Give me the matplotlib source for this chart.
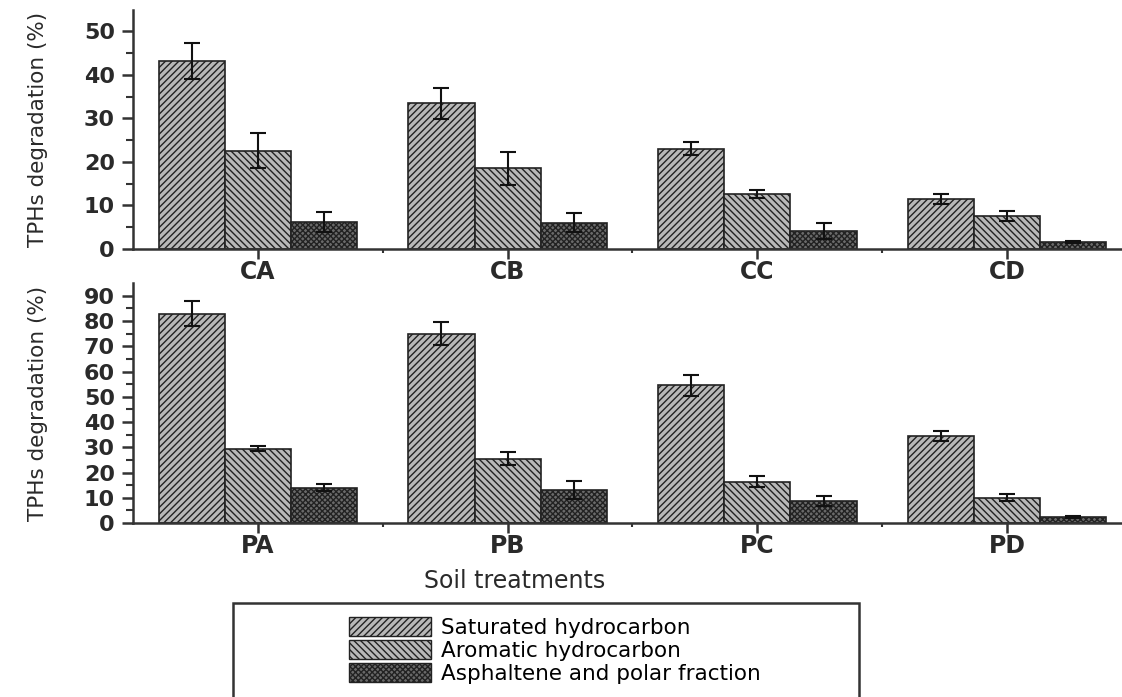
import numpy as np
import matplotlib.pyplot as plt
from matplotlib.patches import Rectangle, Patch

plt.rcParams['font.family'] = ['DejaVu Sans']
plt.rcParams['hatch.linewidth'] = 1.0

# Data
top_groups = ['CA', 'CB', 'CC', 'CD']
top_sat = [43.2, 33.5, 23.0, 11.4]
top_sat_err = [4.2, 3.6, 1.5, 1.2]
top_aro = [22.6, 18.5, 12.6, 7.6]
top_aro_err = [4.0, 3.8, 1.0, 1.1]
top_asp = [6.2, 6.0, 4.1, 1.6]
top_asp_err = [2.3, 2.2, 1.8, 0.3]

bot_groups = ['PA', 'PB', 'PC', 'PD']
bot_sat = [83.0, 75.0, 54.5, 34.5]
bot_sat_err = [5.0, 4.5, 4.0, 2.0]
bot_aro = [29.4, 25.5, 16.3, 10.0]
bot_aro_err = [1.0, 2.5, 2.2, 1.4]
bot_asp = [13.9, 13.0, 8.7, 2.4]
bot_asp_err = [1.4, 3.5, 2.0, 0.4]

series = ['Saturated hydrocarbon', 'Aromatic hydrocarbon', 'Asphaltene and polar fraction']
hatches = ['/////', '\\\\\\\\\\', 'xxxxxx']
faces = ['#b8b8b8', '#b8b8b8', '#6a6a6a']

fig = plt.figure(figsize=(11.22, 6.97), dpi=100)
ax1 = fig.add_axes([0.1185, 0.643, 0.8815, 0.343])
ax2 = fig.add_axes([0.1185, 0.2496, 0.8815, 0.344])

w = 0.265


def draw(ax, groups, vals, errs, ymax, ystep):
    x = np.arange(len(groups))
    for i, (v, e) in enumerate(zip(vals, errs)):
        ax.bar(x + (i - 1) * w, v, w, color=faces[i], edgecolor='#222222',
               hatch=hatches[i], linewidth=1.2, zorder=2)
        ax.errorbar(x + (i - 1) * w, v, yerr=e, fmt='none', ecolor='#111111',
                    elinewidth=1.5, capsize=6, capthick=1.5, zorder=3)
    ax.set_xlim(-0.5, 3.46)
    ax.set_ylim(0, ymax)
    ax.set_yticks(np.arange(0, ymax, ystep))
    ax.set_yticks(np.arange(ystep / 2, ymax, ystep), minor=True)
    ax.set_xticks(x)
    ax.set_xticklabels(groups)
    ax.set_xticks(x[:-1] + 0.5, minor=True)
    for s in ['top', 'right']:
        ax.spines[s].set_visible(False)
    for s in ['left', 'bottom']:
        ax.spines[s].set_linewidth(1.8)
        ax.spines[s].set_color('#333333')
    ax.tick_params(axis='y', which='major', length=8, width=1.8, labelsize=16, pad=5, color='#333333')
    ax.tick_params(axis='y', which='minor', length=5, width=1.5, color='#333333')
    ax.tick_params(axis='x', which='major', length=7, width=1.8, labelsize=17, pad=1, color='#333333')
    ax.tick_params(axis='x', which='minor', length=3, width=1.5, color='#333333')
    for lab in ax.get_xticklabels() + ax.get_yticklabels():
        lab.set_fontweight('bold')
        lab.set_color('#2a2a2a')
    ax.set_ylabel('TPHs degradation (%)', fontsize=15.5, labelpad=26, color='#2a2a2a')


draw(ax1, top_groups, [top_sat, top_aro, top_asp], [top_sat_err, top_aro_err, top_asp_err], 55, 10)
draw(ax2, bot_groups, [bot_sat, bot_aro, bot_asp], [bot_sat_err, bot_aro_err, bot_asp_err], 95, 10)
ax2.set_xlabel('Soil treatments', fontsize=17, color='#2a2a2a')
ax2.xaxis.set_label_coords(0.386, -0.19)

# Legend box
fig.patches.append(Rectangle((0.208, -0.01), 0.558, 0.145, transform=fig.transFigure,
                             fill=False, edgecolor='#333333', linewidth=1.8))
handles = [Patch(facecolor=faces[i], edgecolor='#222222', hatch=hatches[i]) for i in range(3)]
fig.legend(handles, series, loc='upper left', bbox_to_anchor=(0.298, 0.137), frameon=False,
           fontsize=15.5, handlelength=3.8, handleheight=1.0, handletextpad=0.45,
           labelspacing=0.1, borderpad=0.2)

fig.savefig('out.png', dpi=100)
